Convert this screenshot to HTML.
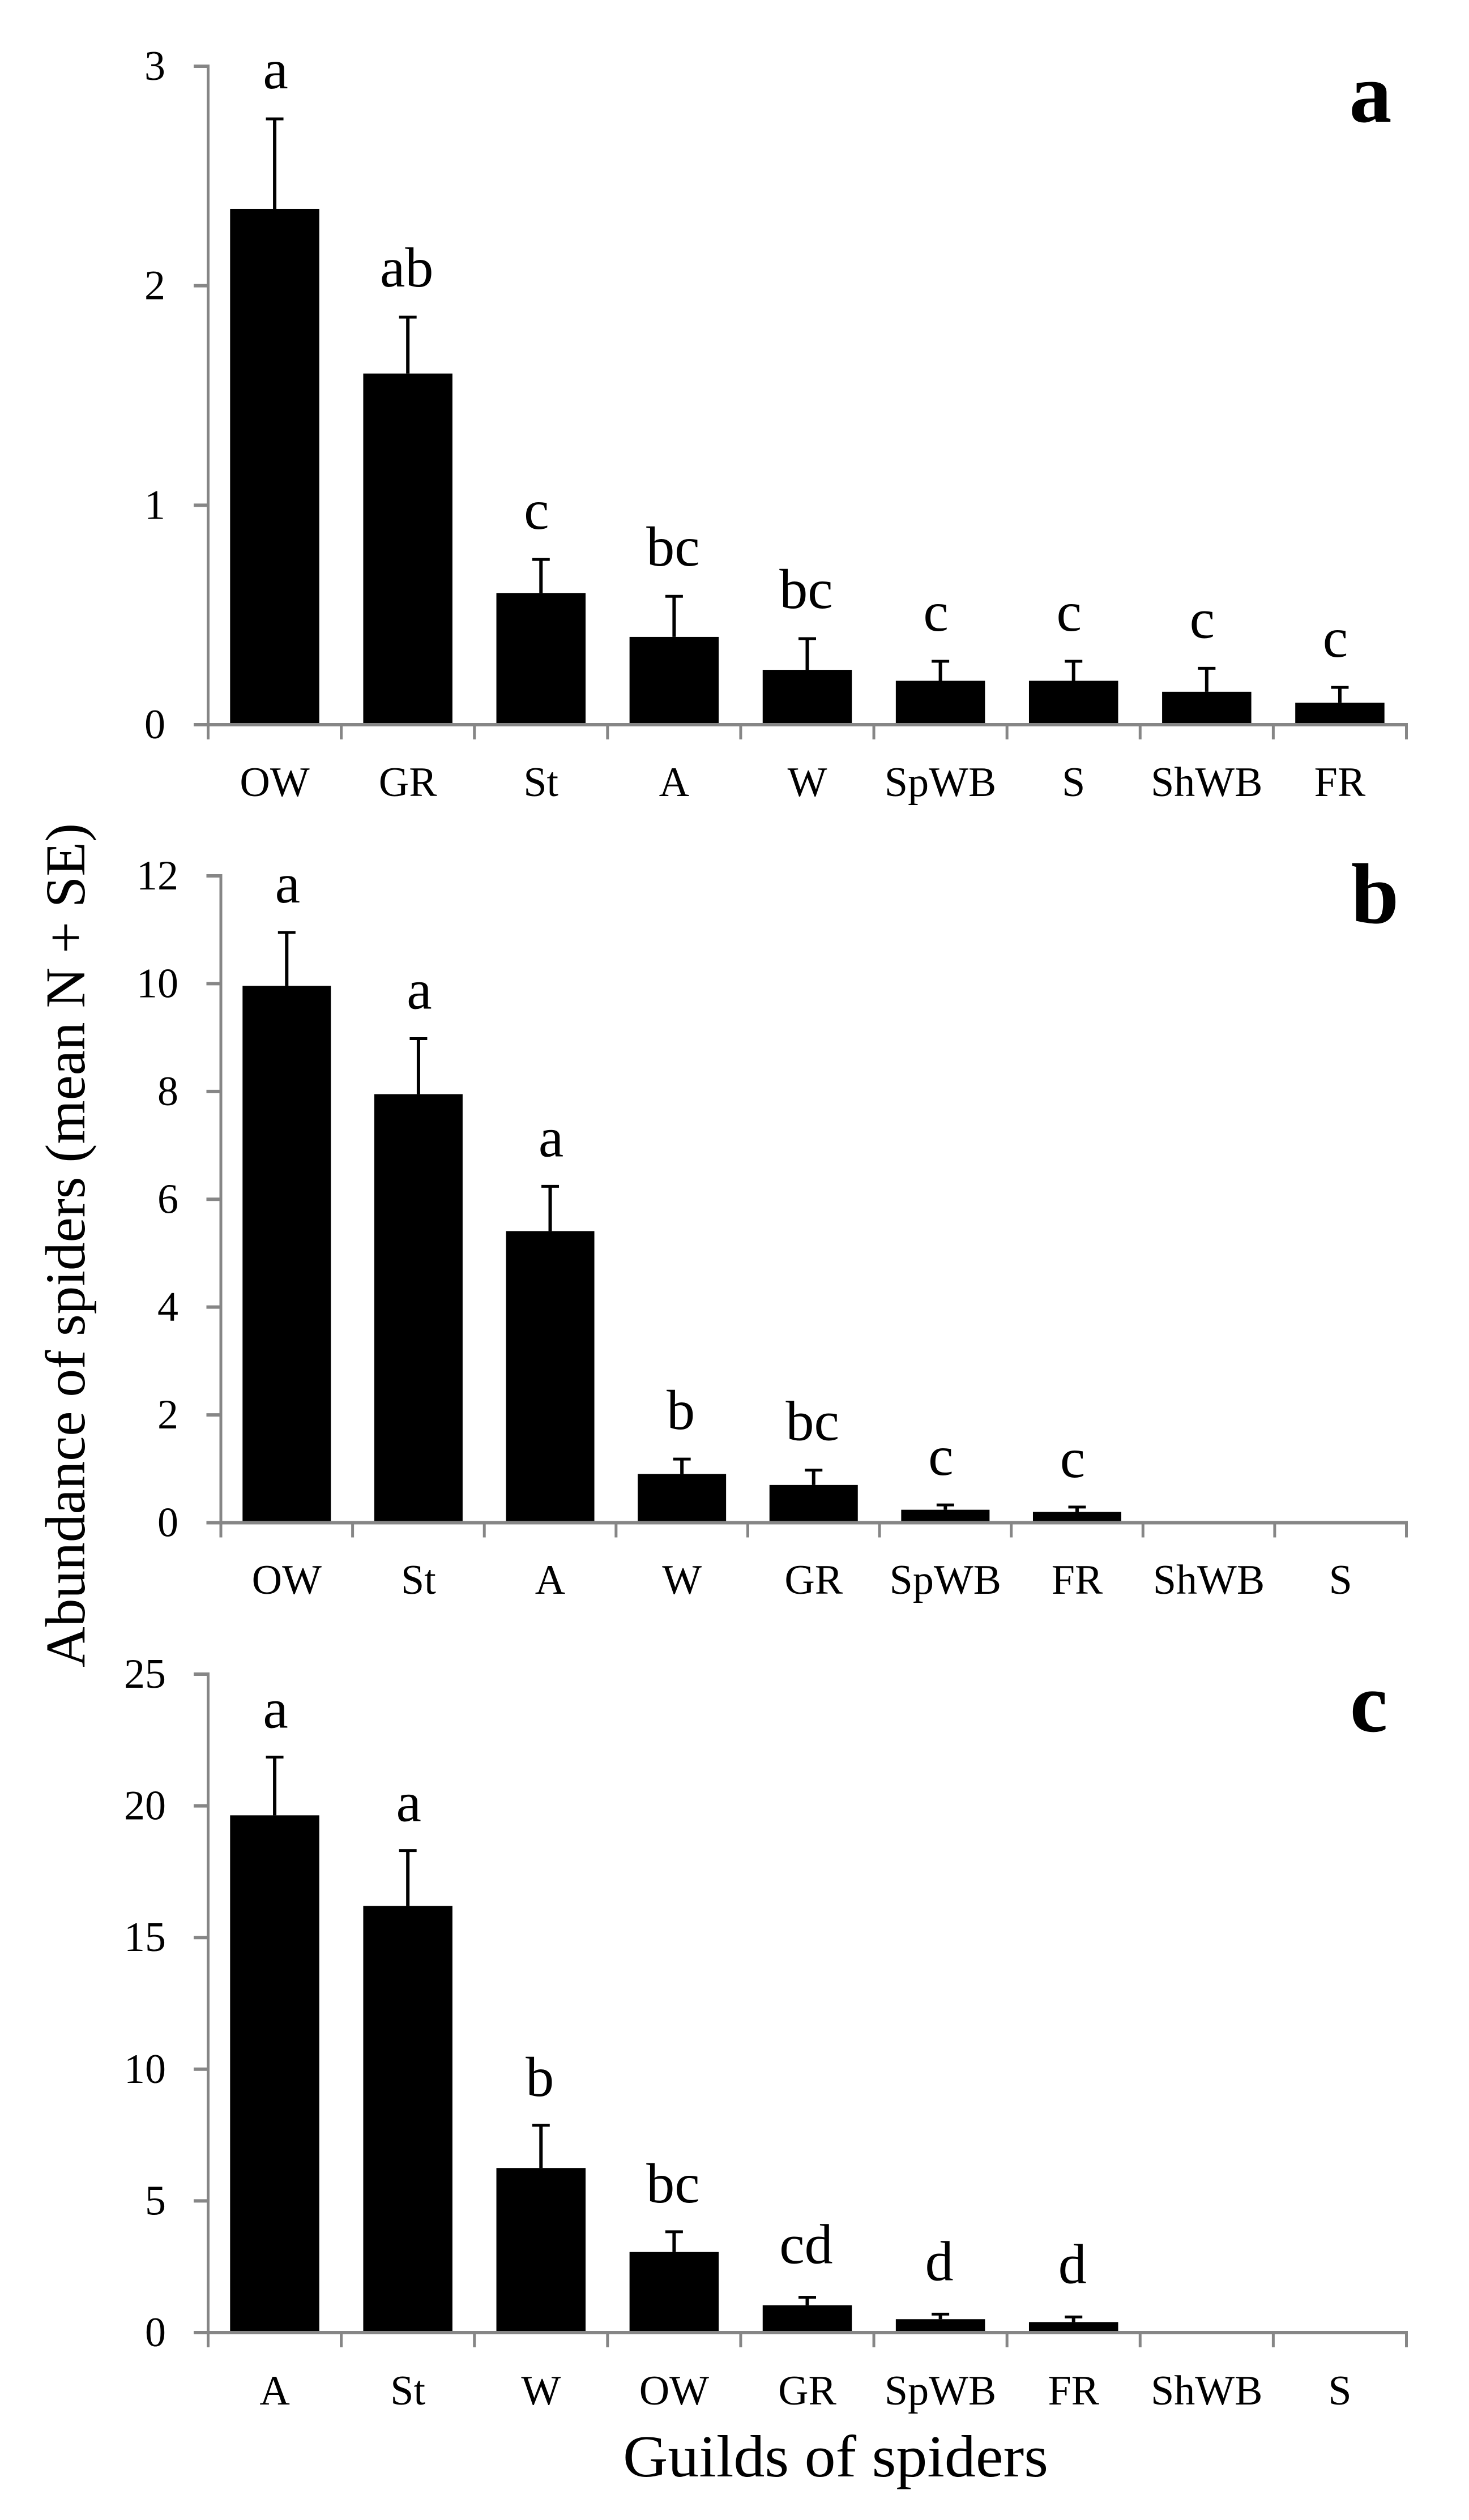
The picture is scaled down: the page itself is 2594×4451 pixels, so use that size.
<!DOCTYPE html>
<html lang="en">
<head>
<meta charset="utf-8">
<title>Abundance of spiders by guild</title>
<style>
html,body{margin:0;padding:0;background:#fff;}
svg{display:block;}
text{font-family:"Liberation Serif",serif;fill:#000;}
</style>
</head>
<body>
<svg id="chart" xmlns="http://www.w3.org/2000/svg" width="2594" height="4451" viewBox="0 0 2594 4451">
  <rect x="0" y="0" width="2594" height="4451" fill="#fff"/>
  <text x="2420" y="215" font-size="150" font-weight="bold" text-anchor="middle">a</text>
  <text x="2428" y="1630" font-size="152" font-weight="bold" text-anchor="middle">b</text>
  <text x="2417" y="3058" font-size="150" font-weight="bold" text-anchor="middle">c</text>
  <text transform="translate(149 2945) rotate(-90)" x="0" y="0" font-size="100" textLength="1491" lengthAdjust="spacingAndGlyphs">Abundance of spiders (mean N + SE)</text>
  <text x="1100" y="4374" font-size="105" textLength="751" lengthAdjust="spacingAndGlyphs">Guilds of spiders</text>
</svg>
<script>
const categoriesA = ["OW","GR","St","A","W","SpWB","S","ShWB","FR"];
const valuesA = [2.35,1.6,0.6,0.4,0.25,0.2,0.2,0.15,0.1];
const errorsA = [0.41,0.257,0.153,0.185,0.142,0.089,0.089,0.107,0.07];
const lettersA = ["a","ab","c","bc","bc","c","c","c","c"];
const ticksA = [0,1,2,3];

const categoriesB = ["OW","St","A","W","GR","SpWB","FR","ShWB","S"];
const valuesB = [9.96,7.95,5.41,0.905,0.7,0.24,0.2,0,0];
const errorsB = [0.99,1.03,0.83,0.275,0.275,0.09,0.09,0,0];
const lettersB = ["a","a","a","b","bc","c","c","",""];
const ticksB = [0,2,4,6,8,10,12];

const categoriesC = ["A","St","W","OW","GR","SpWB","FR","ShWB","S"];
const valuesC = [19.64,16.2,6.25,3.06,1.04,0.51,0.4,0,0];
const errorsC = [2.21,2.1,1.62,0.77,0.3,0.19,0.195,0,0];
const lettersC = ["a","a","b","bc","cd","d","d","",""];
const ticksC = [0,5,10,15,20,25];

const NS = "http://www.w3.org/2000/svg";
const svg = document.getElementById("chart");
const AXIS = "#868686";

function make(parent, tag, attrs, txt) {
  const el = document.createElementNS(NS, tag);
  for (const k in attrs) el.setAttribute(k, attrs[k]);
  if (txt !== undefined) el.textContent = txt;
  parent.appendChild(el);
  return el;
}

function letterShift(s) {
  if (s === "a") return 1.5;
  if (s === "c") return -8;
  return -2;
}

function drawPanel(key, cats, vals, errs, letters, ticks, g) {
  const group = make(svg, "g", {});
  
  
  const yMax = ticks[ticks.length - 1];
  const yScale = v => g.y0 - (v / yMax) * (g.y0 - g.yTop);
  const band = (g.xRight - g.x0) / cats.length;
  const xCenter = i => g.x0 + band * (i + 0.5);

  cats.forEach((c, i) => {
    const v = vals[i];
    if (v <= 0) return;
    const cx = xCenter(i), top = yScale(v), errTop = yScale(v + errs[i]);
    const line = make(group, "line", {x1: cx, x2: cx, y1: top, y2: errTop, stroke: "#000", "stroke-width": 6});
    
    
    const cap = make(group, "line", {x1: cx - 15.5, x2: cx + 15.5, y1: errTop, y2: errTop, stroke: "#000", "stroke-width": 5});
    
    
    const bar = make(group, "rect", {x: cx - g.barW / 2, y: top, width: g.barW, height: g.y0 - top, fill: "#000"});
    
    
    const gap = (g.gapLow && v < 1.5) ? g.gapLow : g.gap;
    const sig = make(group, "text", {x: cx + letterShift(letters[i]), y: errTop - gap, "font-size": 100, "text-anchor": "middle"}, letters[i]);
    
    
  });

  const yAxis = make(group, "line", {x1: g.x0, x2: g.x0, y1: g.yTop - 3, y2: g.y0 + 26, stroke: AXIS, "stroke-width": 5});
  
  
  const xAxis = make(group, "line", {x1: g.x0, x2: g.xRight + 2.5, y1: g.y0, y2: g.y0, stroke: AXIS, "stroke-width": 6});
  
  

  ticks.forEach(t => {
    const y = yScale(t);
    const tick = make(group, "line", {x1: g.x0 - 25.5, x2: g.x0, y1: y, y2: y, stroke: AXIS, "stroke-width": 6});
    
    
    const label = make(group, "text", {x: g.labelRight, y: y + 24, "font-size": 74, "text-anchor": "end"}, String(t));
    
    
  });

  for (let i = 1; i <= cats.length; i++) {
    const x = g.x0 + band * i;
    const tick = make(group, "line", {x1: x, x2: x, y1: g.y0, y2: g.y0 + 26, stroke: AXIS, "stroke-width": 5});
    
    
  }

  cats.forEach((c, i) => {
    const label = make(group, "text", {x: xCenter(i), y: g.labelY, "font-size": 74, "text-anchor": "middle"}, c);
    
    
  });
}

drawPanel("a", categoriesA, valuesA, errorsA, lettersA, ticksA,
  {x0: 367.5, xRight: 2483.5, yTop: 117, y0: 1280, barW: 157.5, gap: 54, labelRight: 292, labelY: 1406});
drawPanel("b", categoriesB, valuesB, errorsB, lettersB, ticksB,
  {x0: 390, xRight: 2483.5, yTop: 1547, y0: 2689.5, barW: 156, gap: 53, labelRight: 315, labelY: 2815});
drawPanel("c", categoriesC, valuesC, errorsC, lettersC, ticksC,
  {x0: 367.5, xRight: 2483.5, yTop: 2957, y0: 4120, barW: 157.5, gap: 52, gapLow: 60, labelRight: 293, labelY: 4247});
</script>
</body>
</html>
